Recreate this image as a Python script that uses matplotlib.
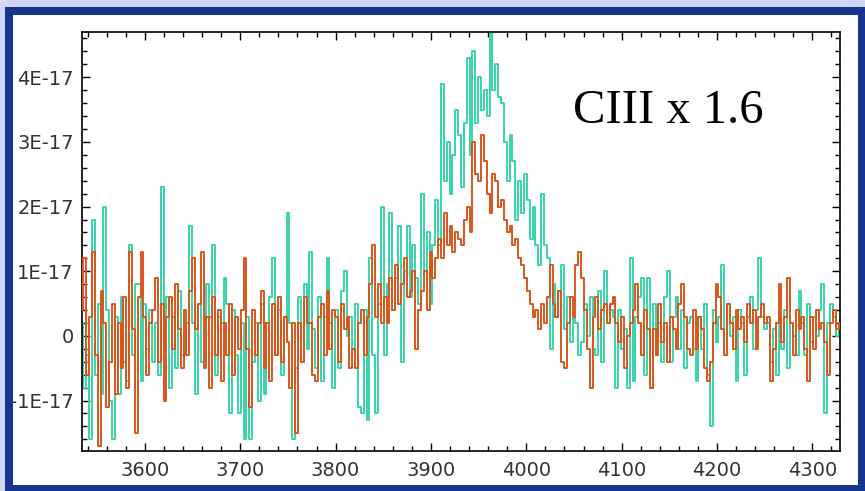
import numpy as np
import matplotlib
matplotlib.use("Agg")
from matplotlib import pyplot as plt
from matplotlib.patches import Rectangle
from matplotlib.ticker import MultipleLocator, FuncFormatter

# wavelength grid (Angstrom), 3 A bins from 3534 to 4329
wave = 3534 + 3 * np.arange(266)

# flux in units of 1e-18: CIII scaled by 1.6 (teal) and the raw one (orange)
flux_scaled = [
    2, -8, -3, -16, 18, -6, 5, -9, 20, 4, -10, -16, 3, -9, 6, -4, -7, 14, -3, 8,
    8, -7, 5, -2, 4, -4, 2, -6, 23, -2, 6, -8, 3, -5, 7, -3, -3, 2, 17, 2,
    -9, 5, -4, 0, 8, 3, 14, -6, 3, 2, 9, 5, -12, 4, -3, -12, 2, -16, 3, -16,
    -4, 2, -10, 5, -9, 2, 6, 12, -3, 4, -6, 3, 19, 2, -16, -5, 6, -4, 8, -2,
    13, 1, -5, 6, -7, 3, 12, 2, -8, 4, -5, 7, 10, 0, 3, -2, 5, -11, -12, 4,
    -13, 12, -3, -12, 5, 20, -3, 8, 19, 4, 9, 17, -4, 10, 17, 6, 14, 9, 5, 22,
    10, 16, 5, 14, 21, 14, 39, 24, 30, 22, 28, 35, 31, 23, 33, 43, 28, 44, 33, 40,
    35, 38, 34, 47, 38, 42, 37, 36, 30, 24, 31, 27, 18, 24, 19, 25, 21, 15, 20, 14,
    11, 22, 14, 12, -2, 8, 3, 7, 11, 1, 6, -1, 3, 2, -3, -1, 5, 0, 6, -2,
    -3, 7, -4, 10, 2, 4, 3, -8, 4, -2, 1, -8, 12, -7, 3, 6, 9, -6, 9, -8,
    5, -3, 2, -4, 6, 10, -4, 3, 6, -2, 4, -5, 2, 3, -2, -7, 3, -2, 5, -6,
    -14, 4, -1, 3, 11, -3, 5, 0, 3, -7, 4, 2, -6, 3, 6, -2, 4, 12, 3, 1,
    2, -4, 1, -6, 3, -2, 4, -5, 2, 0, -3, 7, 2, -3, 5, -1, 3, 0, 4, 8,
    -12, 2, 5, 3, 0, 2,
]
flux_raw = [
    4, 12, -6, 3, 13, -3, -17, 7, 2, -11, -4, 5, -9, 2, -5, 6, -8, 13, 1, -15,
    6, 13, 3, -6, 2, 4, 9, -4, 5, -10, 3, 6, -2, 8, 1, -5, 4, -3, 7, 12,
    1, 5, 13, -5, 3, -8, 6, -3, 4, -7, 2, -3, 5, -6, 3, -2, 4, 12, -2, -11,
    4, -3, 2, 7, -5, 2, -7, 5, -3, 6, -4, 3, -1, -8, 2, -15, 2, -4, 6, 2,
    2, -6, -7, 3, 5, -3, 7, -2, 4, 3, -4, 5, 1, 3, -5, -2, -5, 2, 4, -3,
    3, 8, 14, 3, 8, 2, 6, 2, 9, 4, 11, 5, 8, 12, 6, 7, 10, -2, 4, 7,
    10, 4, 13, 9, 12, 15, 12, 19, 14, 17, 13, 16, 15, 14, 18, 20, 16, 30, 25, 24,
    31, 27, 22, 19, 25, 24, 20, 21, 18, 16, 17, 14, 15, 12, 11, 9, 7, 5, 3, 4,
    1, 5, 2, 6, 11, 5, 3, 7, -4, -5, 2, 6, 3, 11, 13, 9, 4, -2, -8, 3,
    6, 1, 4, 5, 2, 5, 6, 2, -1, 3, -5, 0, 2, 4, 8, 2, -3, 4, 1, -8,
    1, -3, 5, -1, 2, -4, 3, 1, -2, 5, 8, 3, -2, -3, 4, -2, 3, 1, -5, -7,
    -4, 2, 8, 6, 1, -3, 5, 2, -2, 4, 1, 3, -1, 5, 2, 4, -2, 3, 5, 2,
    3, -7, -2, 2, 8, -1, 3, 9, 2, -3, 4, 1, 3, -2, -7, 3, -2, 4, 1, 2,
    -1, -6, 2, 4, 1, 2,
]

ytick_vals = [-1, 0, 1, 2, 3, 4]
ytick_text = ['-1E-17', '0', '1E-17', '2E-17', '3E-17', '4E-17']
xtick_vals = [3600, 3700, 3800, 3900, 4000, 4100, 4200, 4300]
label = 'CIII x 1.6'

W, H = 865, 491
fig = plt.figure(figsize=(W / 100, H / 100), dpi=100)
fig.patch.set_facecolor('white')

ax = fig.add_axes([82 / W, 1 - 451 / H, (840 - 82) / W, (451 - 32) / H])
unit = 1e-18
ax.plot(wave, np.array(flux_scaled) * unit, drawstyle='steps-mid',
        color='#38d5aa', lw=1.4, zorder=2)
ax.plot(wave, np.array(flux_raw) * unit, drawstyle='steps-mid',
        color='#d8561c', lw=1.4, zorder=3)

ax.set_xlim(3534, 4329)
ax.set_ylim(-1.78e-17, 4.70e-17)

ax.set_xticks(xtick_vals)
ax.xaxis.set_minor_locator(MultipleLocator(20))
ax.set_yticks([v * 1e-17 for v in ytick_vals])
ax.yaxis.set_minor_locator(MultipleLocator(0.2e-17))
ax.yaxis.set_major_formatter(FuncFormatter(
    lambda v, p: ytick_text[ytick_vals.index(int(round(v / 1e-17)))]))

ax.tick_params(which='both', direction='in', top=True, right=True,
               colors='black', labelcolor='#333333', labelsize=14)
ax.tick_params(which='major', length=6, width=1)
ax.tick_params(which='minor', length=3.5, width=1)
ax.tick_params(axis='y', pad=6)
ax.tick_params(axis='x', pad=7)
for s in ax.spines.values():
    s.set_linewidth(1.2)

fig.text(573 / W, 1 - 123 / H, label, family='Liberation Serif',
         fontsize=35, color='black', va='baseline', ha='left')

# light outer margin and dark blue frame, drawn above the axes
def strip(x0, y0, x1, y1, color):
    fig.add_artist(Rectangle((x0 / W, 1 - y1 / H), (x1 - x0) / W, (y1 - y0) / H,
                             transform=fig.transFigure, facecolor=color,
                             edgecolor='none', zorder=10))

lav = '#d3d7f7'
navy = '#17348f'
strip(0, 0, W, 7, lav)
strip(0, 0, 5, H, lav)
strip(5, 7, W, 15, navy)
strip(5, 7, 13, H, navy)
strip(858, 7, W, H, navy)
strip(5, 485, W, H, navy)

fig.savefig('out.png', dpi=100, facecolor=fig.get_facecolor())
